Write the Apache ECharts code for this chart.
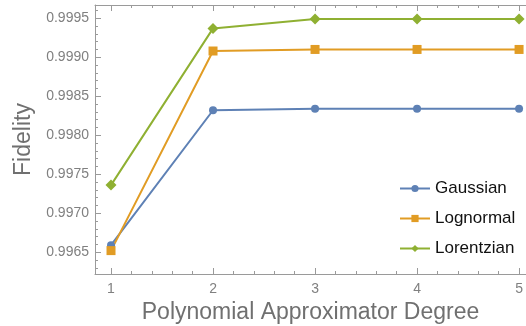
<!DOCTYPE html>
<html lang="en">
<head>
    <meta charset="UTF-8">
    <title>Fidelity vs degree</title>
    <script src="https://cdn.jsdelivr.net/npm/echarts@6/dist/echarts.min.js"></script>
    <style>
        body { margin: 0; background: #fff; }
    </style>
</head>
<body>
    <div id="chart" style="width: 526px;height: 326px;"></div>
</body>
<script type="text/javascript">
    // data
    var degrees = [1, 2, 3, 4, 5];
    var gaussian = [0.99659, 0.99832, 0.99834, 0.99834, 0.99834];
    var lognormal = [0.99652, 0.99908, 0.99910, 0.99910, 0.99910];
    var lorentzian = [0.99736, 0.99937, 0.99949, 0.99949, 0.99949];
    var yMajor = [0.9965, 0.9970, 0.9975, 0.9980, 0.9985, 0.9990, 0.9995];
    var xMajor = [1, 2, 3, 4, 5];

    var yMin = 0.99622, yMax = 0.99967;
    var xMin = 0.843, xMax = 5.068;

    // minor tick positions
    var yMinor = [];
    for (var v = 9962; v <= 9996; v++) yMinor.push(v / 10000);
    var xMinor = [];
    for (var k = 4; k <= 26; k++) xMinor.push(k / 5);

    function pairs(ys) {
        return degrees.map(function (d, i) { return [d, ys[i]]; });
    }

    var axisCol = '#9a9a9a';
    var font = 'Liberation Sans, Arial, sans-serif';

    var chart = echarts.init(document.getElementById('chart'));

    var option = {
        animation: false,
        textStyle: { fontFamily: font },
        grid: { left: 95, right: 0, top: 5, bottom: 52, containLabel: false, outerBoundsMode: 'none' },
        legend: {
            orient: 'vertical',
            left: 394,
            top: 175,
            itemWidth: 30,
            itemHeight: 9,
            itemGap: 13,
            textStyle: { fontSize: 17, color: '#111', fontFamily: font },
            data: ['Gaussian', 'Lognormal', 'Lorentzian']
        },
        xAxis: [
            {
                type: 'value', min: xMin, max: xMax,
                name: 'Polynomial Approximator Degree',
                nameLocation: 'middle', nameGap: 24,
                nameTextStyle: { fontSize: 23, color: '#707070' },
                axisLine: { lineStyle: { color: axisCol } },
                axisTick: { inside: true, length: 6, customValues: xMajor, lineStyle: { color: axisCol } },
                axisLabel: { customValues: xMajor, color: '#808080', fontSize: 14, margin: 8 },
                splitLine: { show: false }
            },
            {
                type: 'value', min: xMin, max: xMax, position: 'bottom',
                axisLine: { show: false },
                axisTick: { inside: true, length: 3, customValues: xMinor, lineStyle: { color: axisCol } },
                axisLabel: { show: false },
                splitLine: { show: false }
            },
            {
                type: 'value', min: xMin, max: xMax, position: 'top',
                axisLine: { lineStyle: { color: axisCol } },
                axisTick: { inside: true, length: 6, customValues: xMajor, lineStyle: { color: axisCol } },
                axisLabel: { show: false },
                splitLine: { show: false }
            },
            {
                type: 'value', min: xMin, max: xMax, position: 'top',
                axisLine: { show: false },
                axisTick: { inside: true, length: 3, customValues: xMinor, lineStyle: { color: axisCol } },
                axisLabel: { show: false },
                splitLine: { show: false }
            }
        ],
        yAxis: [
            {
                type: 'value', min: yMin, max: yMax,
                name: 'Fidelity',
                nameLocation: 'middle', nameGap: 58,
                nameTextStyle: { fontSize: 23, color: '#707070' },
                axisLine: { show: true, lineStyle: { color: axisCol } },
                axisTick: { show: true, inside: true, length: 6, customValues: yMajor, lineStyle: { color: axisCol } },
                axisLabel: {
                    customValues: yMajor, color: '#808080', fontSize: 14, margin: 6,
                    formatter: function (v) { return v.toFixed(4); }
                },
                splitLine: { show: false }
            },
            {
                type: 'value', min: yMin, max: yMax, position: 'left',
                axisLine: { show: false },
                axisTick: { show: true, inside: true, length: 3, customValues: yMinor, lineStyle: { color: axisCol } },
                axisLabel: { show: false },
                splitLine: { show: false }
            }
        ],
        series: [
            {
                name: 'Gaussian', type: 'line', data: pairs(gaussian),
                symbol: 'circle', symbolSize: 8,
                itemStyle: { color: '#5e81b5' },
                lineStyle: { width: 2, color: '#5e81b5' }
            },
            {
                name: 'Lognormal', type: 'line', data: pairs(lognormal),
                symbol: 'rect', symbolSize: 9,
                itemStyle: { color: '#e19c24' },
                lineStyle: { width: 2, color: '#e19c24' }
            },
            {
                name: 'Lorentzian', type: 'line', data: pairs(lorentzian),
                symbol: 'diamond', symbolSize: 11,
                itemStyle: { color: '#8fb032' },
                lineStyle: { width: 2, color: '#8fb032' }
            }
        ]
    };

    chart.setOption(option);
</script>
</html>
